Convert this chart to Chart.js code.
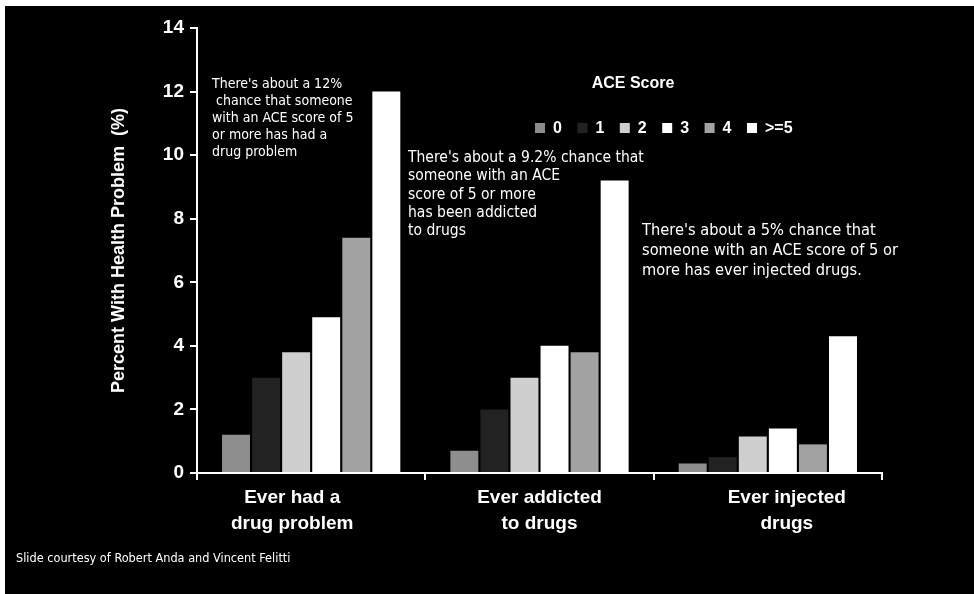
<!DOCTYPE html>
<html>
<head>
<meta charset="utf-8">
<script src="https://cdn.jsdelivr.net/npm/chart.js@4.4.1/dist/chart.umd.min.js"></script>
<style>
  html, body { margin: 0; padding: 0; background: #ffffff; }
  #wrap { position: relative; width: 974px; height: 594px; }
  canvas { display: block; }
</style>
</head>
<body>
<div id="wrap"><canvas id="chart" width="974" height="594"></canvas></div>
<script>
// Outcome categories (multi-line labels under the axis)
const categories = [
  ['Ever had a', 'drug problem'],
  ['Ever addicted', 'to drugs'],
  ['Ever injected', 'drugs']
];

// ACE score groups
const aceLabels = ['0', '1', '2', '3', '4', '>=5'];

// Percent with health problem, per ACE score group
const ace0   = [1.2, 0.7, 0.3];
const ace1   = [3.0, 2.0, 0.5];
const ace2   = [3.8, 3.0, 1.15];
const ace3   = [4.9, 4.0, 1.4];
const ace4   = [7.4, 3.8, 0.9];
const ace5up = [12.0, 9.2, 4.3];

const yTicks = [0, 2, 4, 6, 8, 10, 12, 14];

const seriesValues = [ace0, ace1, ace2, ace3, ace4, ace5up];
const seriesColors = ['#8e8e8e', '#222222', '#cfcfcf', '#ffffff', '#a2a2a2', '#ffffff'];

const notes = [
  { x: 212, y: 84, size: 14, gap: 17, lines: ["There's about a 12%", ' chance that someone', 'with an ACE score of 5', 'or more has had a', 'drug problem'] },
  { x: 408, y: 158, size: 15.5, gap: 18.3, lines: ["There's about a 9.2% chance that", 'someone with an ACE', 'score of 5 or more', 'has been addicted', 'to drugs'] },
  { x: 642, y: 231, size: 16.3, gap: 20, lines: ["There's about a 5% chance that", 'someone with an ACE score of 5 or', 'more has ever injected drugs.'] }
];

const NARROW = '"Liberation Sans Narrow", "DejaVu Sans Condensed", "Liberation Sans", sans-serif';
const BOLD = '"Liberation Sans", Arial, sans-serif';

// Black slide background inside a thin white margin
const slideBackground = {
  id: 'slideBackground',
  beforeDraw(chart) {
    const ctx = chart.ctx;
    ctx.save();
    ctx.fillStyle = '#ffffff';
    ctx.fillRect(0, 0, chart.width, chart.height);
    ctx.fillStyle = '#000000';
    ctx.fillRect(5, 6, chart.width - 5, chart.height - 6);
    ctx.restore();
  }
};

// "ACE Score" key drawn from the datasets
const aceKey = {
  id: 'aceKey',
  afterDraw(chart) {
    const ctx = chart.ctx;
    ctx.save();
    ctx.fillStyle = '#ffffff';
    ctx.font = 'bold 16px ' + BOLD;
    ctx.textAlign = 'center';
    ctx.textBaseline = 'middle';
    ctx.fillText('ACE Score', 633, 84);
    ctx.textAlign = 'left';
    chart.data.datasets.forEach((ds, i) => {
      const x = 535 + i * 42.4;
      const y = 128;
      ctx.fillStyle = ds.backgroundColor;
      ctx.fillRect(x, y - 5, 10, 10);
      ctx.fillStyle = '#ffffff';
      ctx.fillText(ds.label, x + 18, y + 1);
    });
    ctx.restore();
  }
};

// Explanatory notes and credit line
const slideText = {
  id: 'slideText',
  afterDraw(chart) {
    const ctx = chart.ctx;
    ctx.save();
    ctx.fillStyle = '#ffffff';
    ctx.textAlign = 'left';
    ctx.textBaseline = 'middle';
    notes.forEach(n => {
      ctx.font = n.size + 'px ' + NARROW;
      n.lines.forEach((line, k) => ctx.fillText(line, n.x, n.y + k * n.gap));
    });
    ctx.font = '12.6px ' + NARROW;
    ctx.fillText('Slide courtesy of Robert Anda and Vincent Felitti', 16, 559);
    ctx.restore();
  }
};

new Chart(document.getElementById('chart'), {
  type: 'bar',
  data: {
    labels: categories,
    datasets: seriesValues.map((vals, i) => ({
      label: aceLabels[i],
      data: vals,
      backgroundColor: seriesColors[i],
      borderWidth: 0,
      categoryPercentage: 0.79,
      barPercentage: 0.93
    }))
  },
  options: {
    responsive: false,
    animation: false,
    layout: { padding: { left: 0, right: 92, top: 28, bottom: 0 } },
    plugins: { legend: { display: false }, tooltip: { enabled: false } },
    scales: {
      x: {
        position: 'bottom',
        ticks: { display: false },
        grid: { drawOnChartArea: false, drawTicks: true, tickLength: 7, color: '#ffffff', lineWidth: 2 },
        border: { display: true, color: '#ffffff', width: 2 },
        afterFit(s) { s.height = 4; }
      },
      names: {
        type: 'linear',
        position: 'bottom',
        offset: false,
        min: -0.385,
        max: 2.385,
        afterBuildTicks(s) { s.ticks = categories.map((c, i) => ({ value: i })); },
        ticks: {
          autoSkip: false,
          maxRotation: 0,
          color: '#ffffff',
          padding: 0,
          font: { family: BOLD, size: 19, weight: 'bold', lineHeight: 1.37 },
          callback: (v) => categories[v]
        },
        grid: { display: false },
        border: { display: false },
        afterFit(s) { s.height = 117; }
      },
      y: {
        min: 0,
        max: 14,
        afterBuildTicks(s) { s.ticks = yTicks.map(v => ({ value: v })); },
        ticks: { color: '#ffffff', padding: 6, font: { family: BOLD, size: 19, weight: 'bold' } },
        grid: { drawOnChartArea: false, drawTicks: true, tickLength: 7, color: '#ffffff', lineWidth: 2 },
        border: { display: true, color: '#ffffff', width: 2 },
        title: {
          display: true,
          text: 'Percent With Health Problem  (%)',
          color: '#ffffff',
          font: { family: BOLD, size: 18, weight: 'bold' },
          padding: { top: 108, bottom: 0 }
        },
        afterFit(s) { s.width = 197; }
      }
    }
  },
  plugins: [slideBackground, aceKey, slideText]
});
</script>
</body>
</html>
